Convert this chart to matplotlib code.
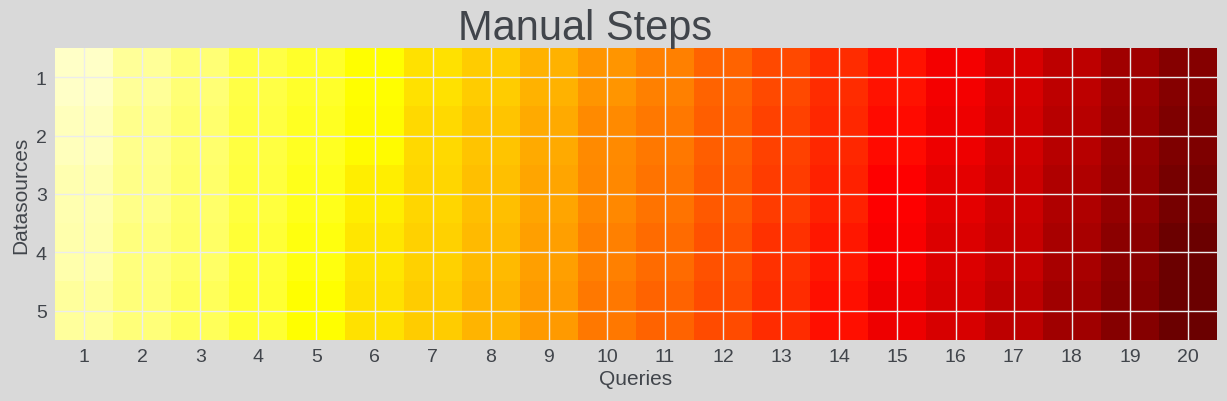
import numpy as np
import matplotlib
matplotlib.use('Agg')
import matplotlib.pyplot as plt

queries = list(range(1, 21))
datasources = list(range(1, 6))

# one list per query (column), values for datasources 1..5
q01 = [5.5, 7.0, 8.0, 8.5, 10.0]
q02 = [10.5, 11.5, 12.0, 13.0, 13.5]
q03 = [14.0, 14.5, 15.0, 15.5, 16.5]
q04 = [18.4, 19.0, 19.4, 20.0, 20.5]
q05 = [21.4, 22.0, 23.0, 24.0, 25.4]
q06 = [25.4, 26.0, 28.0, 29.0, 30.0]
q07 = [30.0, 31.0, 31.4, 32.4, 32.9]
q08 = [33.0, 34.0, 34.8, 35.9, 36.6]
q09 = [37.0, 38.0, 39.0, 39.6, 40.3]
q10 = [41.1, 42.6, 43.3, 44.4, 45.6]
q11 = [44.4, 45.6, 46.3, 47.4, 48.6]
q12 = [48.6, 49.3, 50.0, 51.5, 52.3]
q13 = [52.7, 53.8, 54.5, 56.0, 56.8]
q14 = [56.8, 57.5, 58.3, 59.8, 61.3]
q15 = [60.8, 62.0, 63.5, 64.3, 65.8]
q16 = [65.0, 66.0, 67.2, 68.4, 69.5]
q17 = [69.5, 70.2, 71.0, 71.7, 73.2]
q18 = [73.2, 74.0, 75.0, 76.2, 77.7]
q19 = [77.7, 78.4, 79.2, 80.7, 81.4]
q20 = [81.4, 82.5, 83.7, 85.2, 85.5]

cols = [q01, q02, q03, q04, q05, q06, q07, q08, q09, q10,
        q11, q12, q13, q14, q15, q16, q17, q18, q19, q20]
data = np.array(cols).T

bg = '#d9d9d9'
txt = '#41454b'
plt.rcParams['font.family'] = ['Liberation Sans', 'DejaVu Sans']

fig = plt.figure(figsize=(12.27, 4.02), dpi=100, facecolor=bg)
ax = fig.add_axes([55/1227, 1-341/402, 1162/1227, 292/402])
ax.set_facecolor(bg)
ax.imshow(data, cmap='hot_r', vmin=0, vmax=100, aspect='auto',
          interpolation='nearest',
          extent=(0.5, len(queries)+0.5, len(datasources)+0.5, 0.5))
ax.set_xticks(queries)
ax.set_yticks(datasources)
ax.tick_params(length=0, labelsize=14, colors=txt, pad=6)
ax.grid(True, color='#ececec', linewidth=1)
for s in ax.spines.values():
    s.set_visible(False)
ax.set_xlabel('Queries', fontsize=15, color=txt, labelpad=3)
ax.set_ylabel('Datasources', fontsize=15, color=txt, labelpad=4)
ax.set_title('Manual Steps', fontsize=30, color=txt, pad=0, x=0.456)

fig.savefig('out.png', dpi=100, facecolor=bg)
